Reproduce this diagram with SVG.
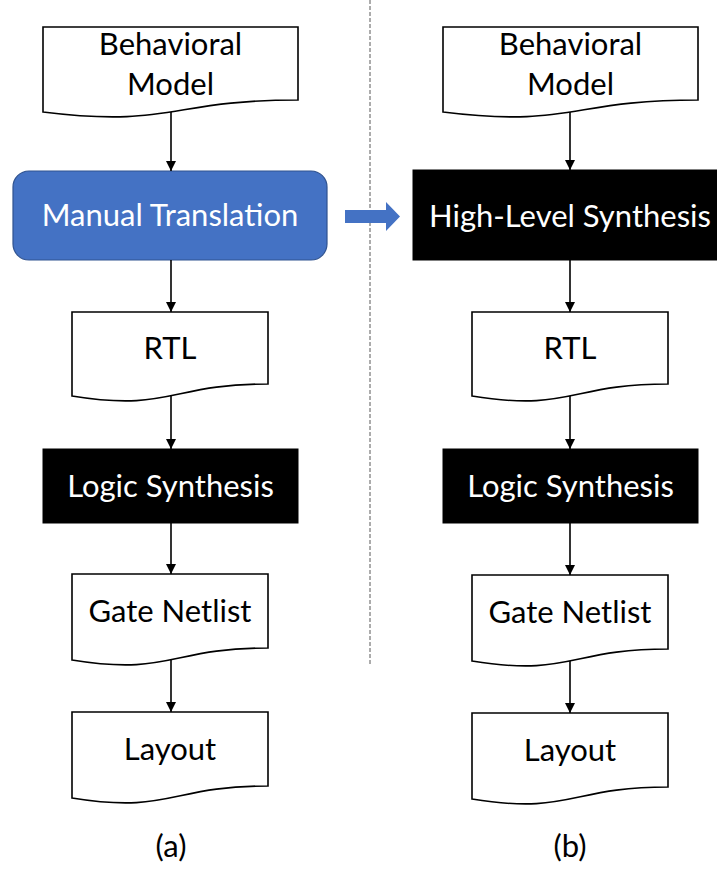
<svg xmlns="http://www.w3.org/2000/svg" width="717" height="869" viewBox="0 0 717 869">
  <defs>
    <marker id="arrowhead" markerWidth="10" markerHeight="10" refX="10" refY="5" orient="auto" markerUnits="userSpaceOnUse">
      <path d="M0,0 L10,5 L0,10 Z" fill="#000"/>
    </marker>
  </defs>
  <style>
    .doc { fill: #fff; stroke: #000; stroke-width: 1.6; }
    .proc { fill: #000; stroke: #000; stroke-width: 1; }
    .manual { fill: #4472C4; stroke: #2F528F; stroke-width: 1.2; }
    .label { font-family: Lato, "Open Sans", "Liberation Sans", sans-serif; font-size: 31px; text-anchor: middle; fill: #000; }
    .white { fill: #fff; }
    .edge { stroke: #000; stroke-width: 1.6; fill: none; marker-end: url(#arrowhead); }
    .divider { stroke: #595959; stroke-width: 1; stroke-dasharray: 4 2; }
  </style>

  <rect width="717" height="869" fill="#fff"/>

  <!-- column divider -->
  <line class="divider" x1="370" y1="0" x2="370" y2="665"/>

  <!-- migration arrow -->
  <path id="shift-arrow" d="M345,210 H386 V202 L400,216.5 L386,231 V223 H345 Z" fill="#4472C4"/>

  <!-- flow (a) -->
  <g id="a-behavioral">
    <path class="doc" d="M43,27 H298 V100 C170.5,100 170.5,128 43,112 Z"/>
    <text class="label" x="170.5" y="55">Behavioral</text>
    <text class="label" x="170.5" y="95">Model</text>
  </g>
  <g id="a-manual">
    <rect class="manual" x="13" y="171" width="314" height="89" rx="16"/>
    <text class="label white" x="170" y="226">Manual Translation</text>
  </g>
  <g id="a-rtl">
    <path class="doc" d="M72,312 H268 V384 C170,384 170,412 72,396 Z"/>
    <text class="label" x="170" y="359">RTL</text>
  </g>
  <g id="a-logic">
    <rect class="proc" x="43" y="449" width="255" height="74"/>
    <text class="label white" x="170.5" y="497">Logic Synthesis</text>
  </g>
  <g id="a-netlist">
    <path class="doc" d="M72,574 H268 V648 C170,648 170,676 72,660 Z"/>
    <text class="label" x="170" y="622">Gate Netlist</text>
  </g>
  <g id="a-layout">
    <path class="doc" d="M72,712 H268 V786 C170,786 170,814 72,798 Z"/>
    <text class="label" x="170" y="760">Layout</text>
  </g>
  <text id="caption-a" class="label" x="171" y="857">(a)</text>

  <!-- flow (b) -->
  <g id="b-behavioral">
    <path class="doc" d="M443,27 H698 V100 C570.5,100 570.5,128 443,112 Z"/>
    <text class="label" x="570.5" y="55">Behavioral</text>
    <text class="label" x="570.5" y="95">Model</text>
  </g>
  <g id="b-hls">
    <rect class="proc" x="413" y="170" width="316" height="90"/>
    <text class="label white" x="570" y="227">High-Level Synthesis</text>
  </g>
  <g id="b-rtl">
    <path class="doc" d="M472,312 H668 V384 C570,384 570,412 472,396 Z"/>
    <text class="label" x="570" y="359">RTL</text>
  </g>
  <g id="b-logic">
    <rect class="proc" x="443" y="449" width="255" height="74"/>
    <text class="label white" x="570.5" y="497">Logic Synthesis</text>
  </g>
  <g id="b-netlist">
    <path class="doc" d="M472,575 H668 V649 C570,649 570,677 472,661 Z"/>
    <text class="label" x="570" y="623">Gate Netlist</text>
  </g>
  <g id="b-layout">
    <path class="doc" d="M472,713 H668 V787 C570,787 570,815 472,799 Z"/>
    <text class="label" x="570" y="761">Layout</text>
  </g>
  <text id="caption-b" class="label" x="570" y="857">(b)</text>

  <!-- connectors -->
  <g id="connectors">
    <line class="edge" x1="171" y1="112" x2="171" y2="171"/>
    <line class="edge" x1="171" y1="260" x2="171" y2="312"/>
    <line class="edge" x1="171" y1="396" x2="171" y2="449"/>
    <line class="edge" x1="171" y1="523" x2="171" y2="574"/>
    <line class="edge" x1="171" y1="660" x2="171" y2="712"/>
    <line class="edge" x1="570" y1="112" x2="570" y2="170"/>
    <line class="edge" x1="570" y1="260" x2="570" y2="312"/>
    <line class="edge" x1="570" y1="396" x2="570" y2="449"/>
    <line class="edge" x1="570" y1="523" x2="570" y2="575"/>
    <line class="edge" x1="570" y1="661" x2="570" y2="713"/>
  </g>
</svg>
